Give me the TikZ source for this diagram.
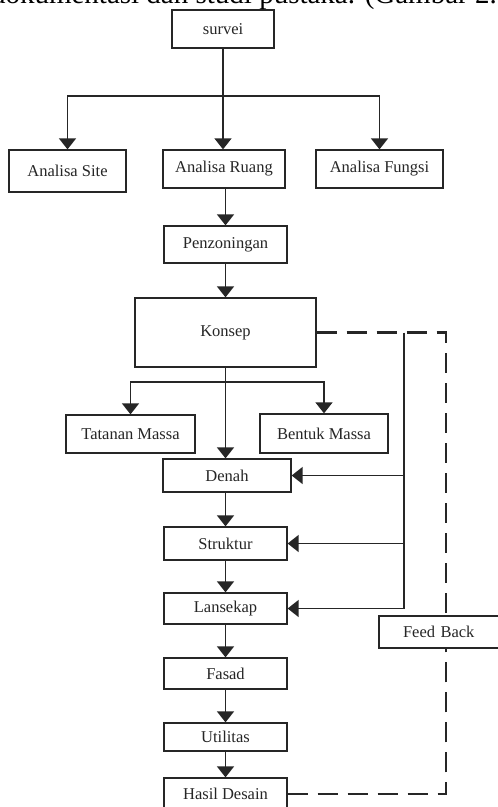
\documentclass[tikz,border=0pt]{standalone}
\usepackage{fontspec}
\setmainfont{Liberation Serif}
\usetikzlibrary{arrows.meta,calc}
\definecolor{ink}{HTML}{262626}
\begin{document}
\begin{tikzpicture}[x=1pt,y=-1pt,
  box/.style={draw=ink, line width=1.3pt, fill=white, inner sep=0pt, text=ink,
              font=\fontsize{16.5}{18}\selectfont},
  link/.style={draw=ink, line width=1.4pt},
  arr/.style={link, -{Triangle[width=17pt,length=11pt]}},
  fbline/.style={draw=ink, line width=2.2pt, dash pattern=on 20pt off 10pt},
]
\useasboundingbox (0,0) rectangle (498,807);
\clip (0,0) rectangle (498,807);
\fill[white] (0,0) rectangle (498,807);

% caption fragment at the top (cut off in the reference)
\node[anchor=base east, inner sep=0pt, font=\fontsize{29}{29}\selectfont, text=black]
  (caption) at (497,3) {dokumentasi dan studi pustaka. (Gambar 2.};

% boxes
\node[box, minimum width=102pt, minimum height=38pt] (survei) at (223,29) {survei};
\node[box, minimum width=117pt, minimum height=42pt] (site) at (67.5,171) {Analisa Site};
\node[box, minimum width=122pt, minimum height=38pt] (ruang) at (224,169) {Analisa Ruang};
\node[box, minimum width=127pt, minimum height=38pt] (fungsi) at (379.5,169) {Analisa Fungsi};
\node[box, minimum width=123pt, minimum height=37pt] (penz) at (225.5,244.5) {Penzoningan};
\node[box, minimum width=181pt, minimum height=69pt] (konsep) at (225.5,332.5) {Konsep};
\node[box, minimum width=129pt, minimum height=38pt] (tatanan) at (130.5,434) {Tatanan Massa};
\node[box, minimum width=128pt, minimum height=39pt] (bentuk) at (324,433.5) {Bentuk Massa};
\node[box, minimum width=128pt, minimum height=33pt] (denah) at (227,475.5) {Denah};
\node[box, minimum width=123pt, minimum height=33pt] (struktur) at (225.5,543.5) {Struktur};
\node[box, minimum width=123pt, minimum height=31pt] (lansekap) at (225.5,608.5) {Lansekap};
\node[box, minimum width=123pt, minimum height=31pt] (fasad) at (225.5,673.5) {Fasad};
\node[box, minimum width=123pt, minimum height=28pt] (utilitas) at (225.5,737) {Utilitas};
\node[box, minimum width=123pt, minimum height=32pt] (hasil) at (225.5,794) {Hasil Desain};
\node[box, minimum width=134pt, minimum height=32pt, text width=130pt, align=left] (feedback) at (446,632)
  {\hspace*{22pt}Feed Back};

% survei split
\coordinate (s1) at (223,96);
\draw[link] (survei.south) -- (s1);
\draw[arr] (s1) -| (site.north);
\draw[arr] (s1) -- (s1 |- ruang.north);
\draw[arr] (s1) -| (fungsi.north);

% main chain
\draw[arr] (penz.north |- ruang.south) -- (penz.north);
\draw[arr] (penz.south) -- (penz.south |- konsep.north);
\draw[arr] (konsep.south) -- (konsep.south |- denah.north);
\coordinate (s2) at (225.5,382);
\draw[arr] (s2) -| (tatanan.north);
\draw[arr] (s2) -| (bentuk.north);
\draw[arr] (denah.south -| struktur.north) -- (struktur.north);
\draw[arr] (struktur.south) -- (lansekap.north);
\draw[arr] (lansekap.south) -- (fasad.north);
\draw[arr] (fasad.south) -- (utilitas.north);
\draw[arr] (utilitas.south) -- (hasil.north);

% feedback: solid distribution line
\coordinate (ft) at (404,332.5);
\coordinate (fb) at (404,608.5);
\draw[link] (ft) -- (fb);
\draw[arr] (ft |- denah.east) -- (denah.east);
\draw[arr] (ft |- struktur.east) -- (struktur.east);
\draw[arr] (fb) -- (lansekap.east);

% feedback: dashed loop
\coordinate (dk) at (446,332.5);
\coordinate (dh) at (446,794);
\draw[fbline] (konsep.east) -- (dk) -- (dk |- feedback.north);
\draw[fbline] (hasil.east) -- (dh) -- (dh |- feedback.south);
\end{tikzpicture}
\end{document}
